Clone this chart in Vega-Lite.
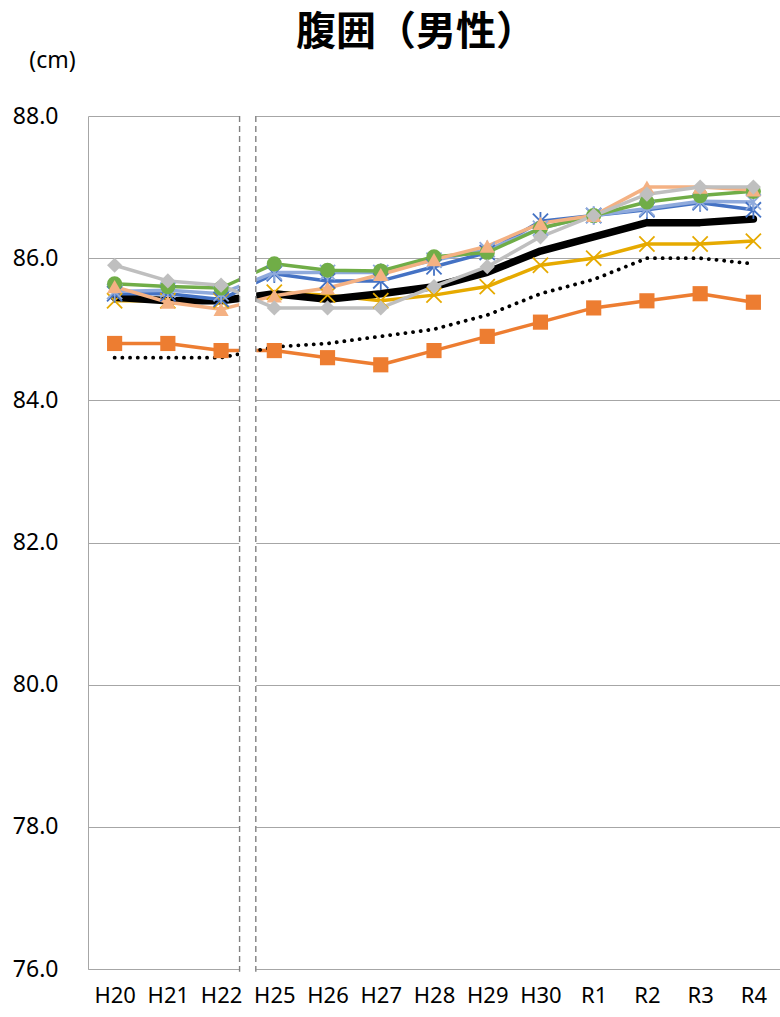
{
  "$schema": "https://vega.github.io/schema/vega-lite/v6.json",
  "width": 692,
  "height": 853,
  "autosize": {"type": "none"},
  "padding": {"left": 88, "top": 116, "right": 0, "bottom": 48},
  "background": "white",
  "config": {"view": {"stroke": null}, "font": "Noto Sans"},
  "title": {
    "text": "腹囲（男性）",
    "font": "Noto Sans CJK JP",
    "fontSize": 40,
    "fontWeight": "bold",
    "color": "#000000",
    "anchor": "middle",
    "frame": "group",
    "dx": -18,
    "dy": 24,
    "offset": 20
  },
  "datasets": {
    "vals": [
      {"year": "H20", "series": "全国", "value": 85.45},
      {"year": "H21", "series": "全国", "value": 85.4},
      {"year": "H22", "series": "全国", "value": 85.4},
      {"year": "H25", "series": "全国", "value": 85.5},
      {"year": "H26", "series": "全国", "value": 85.42},
      {"year": "H27", "series": "全国", "value": 85.5},
      {"year": "H28", "series": "全国", "value": 85.6},
      {"year": "H29", "series": "全国", "value": 85.8},
      {"year": "H30", "series": "全国", "value": 86.1},
      {"year": "R1", "series": "全国", "value": 86.3},
      {"year": "R2", "series": "全国", "value": 86.5},
      {"year": "R3", "series": "全国", "value": 86.5},
      {"year": "R4", "series": "全国", "value": 86.55},

      {"year": "H20", "series": "点線", "value": 84.6},
      {"year": "H21", "series": "点線", "value": 84.6},
      {"year": "H22", "series": "点線", "value": 84.6},
      {"year": "H25", "series": "点線", "value": 84.75},
      {"year": "H26", "series": "点線", "value": 84.8},
      {"year": "H27", "series": "点線", "value": 84.9},
      {"year": "H28", "series": "点線", "value": 85.0},
      {"year": "H29", "series": "点線", "value": 85.2},
      {"year": "H30", "series": "点線", "value": 85.5},
      {"year": "R1", "series": "点線", "value": 85.7},
      {"year": "R2", "series": "点線", "value": 86.0},
      {"year": "R3", "series": "点線", "value": 86.0},
      {"year": "R4", "series": "点線", "value": 85.92},

      {"year": "H20", "series": "系列A", "value": 84.8},
      {"year": "H21", "series": "系列A", "value": 84.8},
      {"year": "H22", "series": "系列A", "value": 84.7},
      {"year": "H25", "series": "系列A", "value": 84.7},
      {"year": "H26", "series": "系列A", "value": 84.6},
      {"year": "H27", "series": "系列A", "value": 84.5},
      {"year": "H28", "series": "系列A", "value": 84.7},
      {"year": "H29", "series": "系列A", "value": 84.9},
      {"year": "H30", "series": "系列A", "value": 85.1},
      {"year": "R1", "series": "系列A", "value": 85.3},
      {"year": "R2", "series": "系列A", "value": 85.4},
      {"year": "R3", "series": "系列A", "value": 85.5},
      {"year": "R4", "series": "系列A", "value": 85.38},

      {"year": "H20", "series": "系列B", "value": 85.4},
      {"year": "H21", "series": "系列B", "value": 85.4},
      {"year": "H22", "series": "系列B", "value": 85.4},
      {"year": "H25", "series": "系列B", "value": 85.52},
      {"year": "H26", "series": "系列B", "value": 85.48},
      {"year": "H27", "series": "系列B", "value": 85.4},
      {"year": "H28", "series": "系列B", "value": 85.48},
      {"year": "H29", "series": "系列B", "value": 85.6},
      {"year": "H30", "series": "系列B", "value": 85.9},
      {"year": "R1", "series": "系列B", "value": 86.0},
      {"year": "R2", "series": "系列B", "value": 86.2},
      {"year": "R3", "series": "系列B", "value": 86.2},
      {"year": "R4", "series": "系列B", "value": 86.24},

      {"year": "H20", "series": "系列C", "value": 85.5},
      {"year": "H21", "series": "系列C", "value": 85.5},
      {"year": "H22", "series": "系列C", "value": 85.42},
      {"year": "H25", "series": "系列C", "value": 85.78},
      {"year": "H26", "series": "系列C", "value": 85.68},
      {"year": "H27", "series": "系列C", "value": 85.68},
      {"year": "H28", "series": "系列C", "value": 85.88},
      {"year": "H29", "series": "系列C", "value": 86.08},
      {"year": "H30", "series": "系列C", "value": 86.52},
      {"year": "R1", "series": "系列C", "value": 86.6},
      {"year": "R2", "series": "系列C", "value": 86.68},
      {"year": "R3", "series": "系列C", "value": 86.78},
      {"year": "R4", "series": "系列C", "value": 86.68},

      {"year": "H20", "series": "系列D", "value": 85.53},
      {"year": "H21", "series": "系列D", "value": 85.55},
      {"year": "H22", "series": "系列D", "value": 85.5},
      {"year": "H25", "series": "系列D", "value": 85.8},
      {"year": "H26", "series": "系列D", "value": 85.8},
      {"year": "H27", "series": "系列D", "value": 85.8},
      {"year": "H28", "series": "系列D", "value": 85.97},
      {"year": "H29", "series": "系列D", "value": 86.12},
      {"year": "H30", "series": "系列D", "value": 86.42},
      {"year": "R1", "series": "系列D", "value": 86.6},
      {"year": "R2", "series": "系列D", "value": 86.7},
      {"year": "R3", "series": "系列D", "value": 86.8},
      {"year": "R4", "series": "系列D", "value": 86.79},

      {"year": "H20", "series": "系列E", "value": 85.64},
      {"year": "H21", "series": "系列E", "value": 85.6},
      {"year": "H22", "series": "系列E", "value": 85.58},
      {"year": "H25", "series": "系列E", "value": 85.92},
      {"year": "H26", "series": "系列E", "value": 85.83},
      {"year": "H27", "series": "系列E", "value": 85.82},
      {"year": "H28", "series": "系列E", "value": 86.02},
      {"year": "H29", "series": "系列E", "value": 86.08},
      {"year": "H30", "series": "系列E", "value": 86.42},
      {"year": "R1", "series": "系列E", "value": 86.6},
      {"year": "R2", "series": "系列E", "value": 86.79},
      {"year": "R3", "series": "系列E", "value": 86.88},
      {"year": "R4", "series": "系列E", "value": 86.94},

      {"year": "H20", "series": "系列F", "value": 85.6},
      {"year": "H21", "series": "系列F", "value": 85.38},
      {"year": "H22", "series": "系列F", "value": 85.28},
      {"year": "H25", "series": "系列F", "value": 85.47},
      {"year": "H26", "series": "系列F", "value": 85.58},
      {"year": "H27", "series": "系列F", "value": 85.77},
      {"year": "H28", "series": "系列F", "value": 85.98},
      {"year": "H29", "series": "系列F", "value": 86.17},
      {"year": "H30", "series": "系列F", "value": 86.49},
      {"year": "R1", "series": "系列F", "value": 86.6},
      {"year": "R2", "series": "系列F", "value": 87.0},
      {"year": "R3", "series": "系列F", "value": 87.0},
      {"year": "R4", "series": "系列F", "value": 86.96},

      {"year": "H20", "series": "系列G", "value": 85.9},
      {"year": "H21", "series": "系列G", "value": 85.68},
      {"year": "H22", "series": "系列G", "value": 85.62},
      {"year": "H25", "series": "系列G", "value": 85.3},
      {"year": "H26", "series": "系列G", "value": 85.3},
      {"year": "H27", "series": "系列G", "value": 85.3},
      {"year": "H28", "series": "系列G", "value": 85.6},
      {"year": "H29", "series": "系列G", "value": 85.88},
      {"year": "H30", "series": "系列G", "value": 86.3},
      {"year": "R1", "series": "系列G", "value": 86.6},
      {"year": "R2", "series": "系列G", "value": 86.9},
      {"year": "R3", "series": "系列G", "value": 87.0},
      {"year": "R4", "series": "系列G", "value": 87.0}
    ],
    "brkL": [{"year": "H22"}],
    "brkR": [{"year": "H25"}]
  },
  "resolve": {"scale": {"shape": "independent"}},
  "layer": [
    {
      "encoding": {
        "x": {
          "field": "year",
          "type": "nominal",
          "sort": null,
          "scale": {"type": "point", "padding": 0.5, "domain": ["H20", "H21", "H22", "H25", "H26", "H27", "H28", "H29", "H30", "R1", "R2", "R3", "R4"]},
          "axis": {
            "title": null,
            "labelAngle": 0,
            "labelFontSize": 22,
            "labelColor": "#000000",
            "labelPadding": 16,
            "ticks": false,
            "grid": false,
            "domainColor": "#a6a6a6",
            "domainWidth": 1
          }
        },
        "y": {
          "field": "value",
          "type": "quantitative",
          "scale": {"domain": [76, 88], "nice": false, "zero": false},
          "axis": {
            "title": "(cm)",
            "titleAngle": 0,
            "titleFontSize": 23,
            "titleFontWeight": "normal",
            "titleColor": "#000000",
            "titleAlign": "center",
            "titleBaseline": "middle",
            "titleX": -36,
            "titleY": -56,
            "values": [76, 78, 80, 82, 84, 86, 88],
            "format": ".1f",
            "labelFontSize": 23,
            "labelColor": "#000000",
            "labelPadding": 30,
            "ticks": false,
            "grid": true,
            "gridColor": "#a6a6a6",
            "gridWidth": 1,
            "domainColor": "#a6a6a6",
            "domainWidth": 1
          }
        },
        "color": {
          "field": "series",
          "type": "nominal",
          "legend": null,
          "scale": {
            "domain": ["全国", "点線", "系列A", "系列B", "系列C", "系列D", "系列E", "系列F", "系列G"],
            "range": ["#000000", "#000000", "#ED7D31", "#E6AA00", "#4472C4", "#8FAADC", "#70AD47", "#F4B183", "#BFBFBF"]
          }
        }
      },
      "resolve": {"scale": {"shape": "independent"}},
      "layer": [
        {
          "data": {"name": "vals"},
          "transform": [{"filter": {"field": "series", "oneOf": ["系列A", "系列B"]}}],
          "mark": {"type": "line", "strokeWidth": 3.5, "strokeJoin": "round"}
        },
        {
          "data": {"name": "vals"},
          "transform": [{"filter": {"field": "series", "equal": "点線"}}],
          "mark": {"type": "line", "strokeWidth": 3.8, "strokeDash": [0.1, 7.6], "strokeCap": "round"}
        },
        {
          "data": {"name": "vals"},
          "transform": [{"filter": {"field": "series", "equal": "全国"}}],
          "mark": {"type": "line", "strokeWidth": 7.5, "strokeJoin": "round", "strokeCap": "round"}
        },
        {
          "data": {"name": "vals"},
          "transform": [{"filter": {"field": "series", "oneOf": ["系列C", "系列D", "系列E", "系列F", "系列G"]}}],
          "mark": {"type": "line", "strokeWidth": 3.5, "strokeJoin": "round"}
        },
        {
          "data": {"name": "vals"},
          "transform": [{"filter": {"field": "series", "oneOf": ["系列B", "系列C", "系列D"]}}],
          "mark": {"type": "point", "filled": false, "strokeWidth": 1.8, "size": 230, "opacity": 1},
          "encoding": {
            "shape": {
              "field": "series",
              "type": "nominal",
              "legend": null,
              "scale": {
                "domain": ["系列B", "系列C", "系列D"],
                "range": ["M-1,-1L1,1M1,-1L-1,1", "M-1,-1L1,1M1,-1L-1,1M0,-1.2L0,1.2", "M-1,-1L1,1M1,-1L-1,1M0,-1.2L0,1.2"]
              }
            }
          }
        },
        {
          "data": {"name": "vals"},
          "transform": [{"filter": {"field": "series", "oneOf": ["系列A", "系列E", "系列F", "系列G"]}}],
          "mark": {"type": "point", "filled": true, "size": 230, "opacity": 1},
          "encoding": {
            "shape": {
              "field": "series",
              "type": "nominal",
              "legend": null,
              "scale": {
                "domain": ["系列A", "系列E", "系列F", "系列G"],
                "range": ["square", "circle", "triangle-up", "diamond"]
              }
            }
          }
        }
      ]
    },
    {
      "data": {"name": "brkL"},
      "mark": {"type": "rule", "strokeWidth": 17, "xOffset": 26.6, "color": "#ffffff"},
      "encoding": {
        "x": {"field": "year", "type": "nominal", "sort": null},
        "y": {"datum": 88.03},
        "y2": {"datum": 75.96}
      }
    },
    {
      "data": {"name": "brkL"},
      "mark": {"type": "rule", "strokeWidth": 1.4, "strokeDash": [6, 4], "xOffset": 18.5, "color": "#808080"},
      "encoding": {
        "x": {"field": "year", "type": "nominal", "sort": null},
        "y": {"datum": 88.0},
        "y2": {"datum": 75.96}
      }
    },
    {
      "data": {"name": "brkR"},
      "mark": {"type": "rule", "strokeWidth": 1.4, "strokeDash": [6, 4], "xOffset": -18.5, "color": "#808080"},
      "encoding": {
        "x": {"field": "year", "type": "nominal", "sort": null},
        "y": {"datum": 88.0},
        "y2": {"datum": 75.96}
      }
    }
  ]
}
